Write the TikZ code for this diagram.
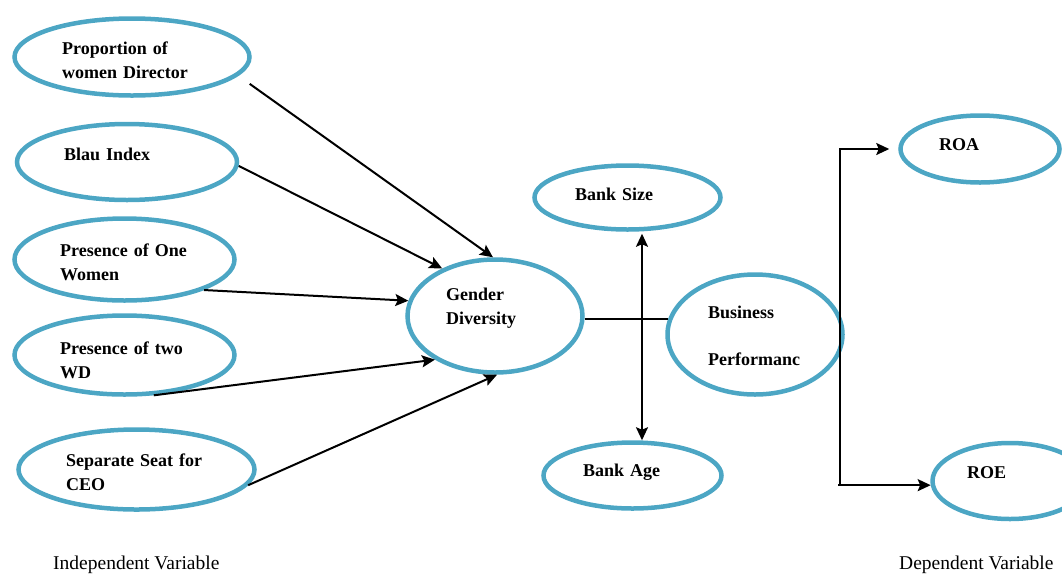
\documentclass[tikz,border=0pt]{standalone}
\usepackage{fontspec}
\setmainfont{Liberation Serif}
\usetikzlibrary{shapes.geometric,arrows.meta}
\definecolor{ring}{RGB}{76,166,196}
\tikzset{
  ell/.style={ellipse,draw=ring,line width=4.5pt,inner sep=0pt},
  lbl/.style={anchor=base west,inner sep=0pt,align=left,text width=200pt,
    font=\fontsize{18}{24}\selectfont\bfseries},
  footlbl/.style={anchor=base west,inner sep=0pt,font=\fontsize{19.5}{24}\selectfont},
  conn/.style={draw=black,line width=2pt},
  arr/.style={conn,-{Stealth[length=13pt,width=12pt,inset=2.5pt]}},
  dbl/.style={conn,{Stealth[length=13pt,width=12pt,inset=2.5pt]}-{Stealth[length=13pt,width=12pt,inset=2.5pt]}}
}
\begin{document}
\begin{tikzpicture}[x=1pt,y=-1pt]
\useasboundingbox (0,0) rectangle (1062,574);
% ellipses
\node[ell,minimum width=235pt,minimum height=77pt] (prop) at (132,57) {};
\node[ell,minimum width=220pt,minimum height=76pt] (blau) at (127,162) {};
\node[ell,minimum width=220pt,minimum height=82pt] (one) at (124.5,259.5) {};
\node[ell,minimum width=220pt,minimum height=79pt] (two) at (124.5,355) {};
\node[ell,minimum width=236pt,minimum height=80pt] (sep) at (136.5,469.5) {};
\node[ell,minimum width=175pt,minimum height=113pt] (gender) at (495,316) {};
\node[ell,minimum width=186pt,minimum height=64pt] (size) at (627.5,197.5) {};
\node[ell,minimum width=178pt,minimum height=66pt] (age) at (632.5,475.5) {};
\node[ell,minimum width=175pt,minimum height=120pt] (bp) at (755,334.5) {};
\node[ell,minimum width=159pt,minimum height=67pt] (roa) at (980,149) {};
\node[ell,minimum width=155pt,minimum height=76pt] (roe) at (1010,481) {};
% labels
\node[lbl] (tprop) at (62,54.5) {Proportion of\\women Director};
\node[lbl] (tblau) at (64,160) {Blau Index};
\node[lbl] (tone) at (60,256) {Presence of One\\Women};
\node[lbl] (ttwo) at (60,354) {Presence of two\\WD};
\node[lbl] (tsep) at (66,466.5) {Separate Seat for\\CEO};
\node[lbl] (tgender) at (446,300.5) {Gender\\Diversity};
\node[lbl] (tsize) at (575,200) {Bank Size};
\node[lbl] (tage) at (583,476.5) {Bank Age};
\node[lbl,font=\fontsize{18}{47}\selectfont\bfseries] (tbp) at (708,318) {Business\\Performanc};
\node[lbl] (troa) at (939,150.5) {ROA};
\node[lbl] (troe) at (967,478) {ROE};
\node[footlbl] (indep) at (53,569) {Independent Variable};
\node[footlbl] (dep) at (899,569) {Dependent Variable};
% connectors
\draw[arr,shorten <=14pt] (prop.-10.8) -- (gender.92);
\draw[arr] (blau.-2) -- (gender.138);
\draw[arr] (one.-21) -- (gender.170.4);
\draw[arr] (two.-54.8) -- (gender.-144.6);
\draw[arr] (sep.-8.4) -- (gender.-88);
\coordinate (mid) at (642,320);
\draw[conn] (gender.-2.5) -- (gender.-2.5 -| bp.170.6);
\draw[dbl,shorten <=2pt] (mid |- size.south) -- (mid |- age.north);
\coordinate (trunk) at (840,320);
\draw[conn] (trunk |- roe.183) -- (trunk |- roa.west);
\draw[arr,shorten >=9pt] ([xshift=-1pt]trunk |- roa.west) -- (roa.west);
\draw[arr] ([xshift=-2pt]trunk |- roe.183) -- (roe.183);
\end{tikzpicture}
\end{document}
